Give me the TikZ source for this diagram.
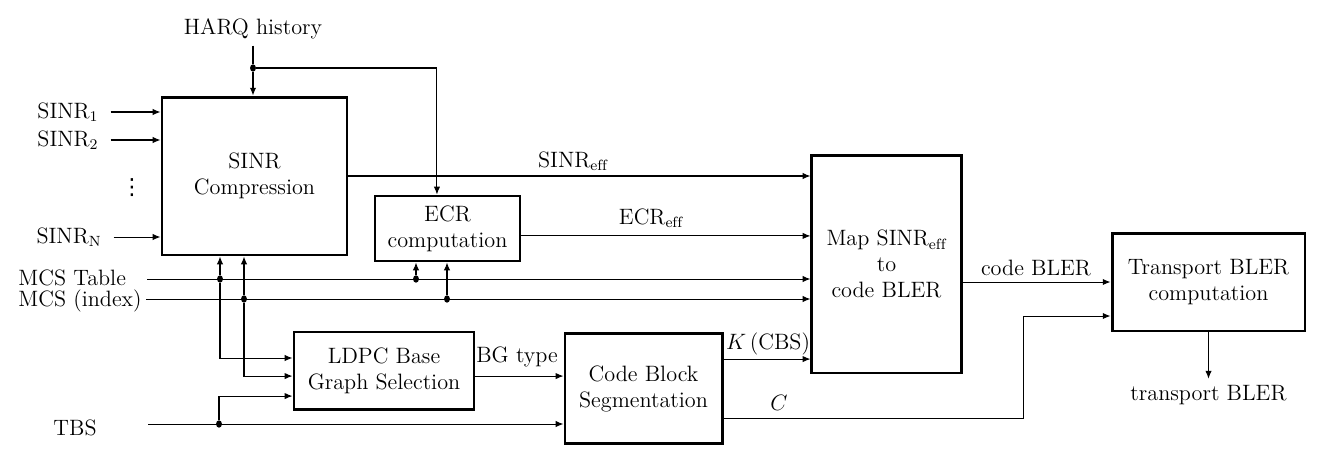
\documentclass[tikz,border=0pt]{standalone}
\usepackage{amsmath}
\usepackage{fontspec}
\newfontfamily\symbfont{DejaVu Sans}
\usetikzlibrary{shapes,arrows.meta}
\tikzset{
  block/.style={draw, line width=1.6pt, align=center, inner sep=2pt},
  dot/.style={ellipse, fill, inner sep=0pt, minimum width=3.2pt, minimum height=4pt},
  wire/.style={line width=0.55pt},
  >={Latex[length=4.2pt,width=3.4pt]}
}
\begin{document}
\begin{tikzpicture}[x=0.54pt, y=-0.54pt, font=\large]
\useasboundingbox (0,0) rectangle (1322,461);
% blocks
\node[block, minimum width=99.9pt, minimum height=85.3pt] (sinr) at (254.5,176) {SINR\\Compression};
\node[block, minimum width=78.3pt, minimum height=35.1pt] (ecr) at (447.5,228.5) {ECR\\computation};
\node[block, minimum width=97.2pt, minimum height=41.6pt] (ldpc) at (384,370.5) {LDPC Base\\Graph Selection};
\node[block, minimum width=84.8pt, minimum height=59.9pt] (cbs) at (643.5,388.5) {Code Block\\Segmentation};
\node[block, minimum width=80.5pt, minimum height=117.7pt] (map) at (886.5,264) {Map SINR$_\mathrm{eff}$\\to\\code BLER};
\node[block, minimum width=104.2pt, minimum height=52.9pt] (tr) at (1208.5,282) {Transport BLER\\computation};
% inputs and outputs
\node (harq) at (253,29) {HARQ history};
\node (s1) at (68,112) {SINR$_1$};
\node (s2) at (68,140) {SINR$_2$};
\node (vd) at (132,188) {\symbfont ⋮};
\node (sn) at (69,237) {SINR$_\mathrm{N}$};
\node[anchor=west, inner sep=0pt] (mcstab) at (18,277.5) {MCS Table};
\node[anchor=west, inner sep=0pt] (mcsidx) at (18,300.5) {MCS (index)};
\node (tbs) at (75,428) {TBS};
\node (out) at (1208.5,395) {transport BLER};
% labels
\node (sinreff) at (573,161) {SINR$_\mathrm{eff}$};
\node (ecreff) at (651,218) {ECR$_\mathrm{eff}$};
\node (bgtype) at (517,357) {BG type};
\node (klab) at (768,344) {$K\,$(CBS)};
\node (clab) at (779,403) {$C$};
\node (codebler) at (1036,268) {code BLER};
% branch points
\node[dot] (dh) at (253,68) {};
\node[dot] (d2) at (220,279) {};
\node[dot] (d3) at (244,299) {};
\node[dot] (d4) at (416,279) {};
\node[dot] (d5) at (447,299) {};
\node[dot] (d6) at (219,424) {};
\coordinate (mcstabin) at (147,279);
\coordinate (mcsidxin) at (146,299);
\coordinate (tbsin) at (148,424);
\coordinate (cup) at (1023,316);
% connectors
\draw[wire] (harq) -- (dh);
\draw[wire,->] (dh) -- (dh |- sinr.north);
\draw[wire,->] (dh) -| ([xshift=-5.7pt]ecr.north);
\draw[wire,->] ([xshift=3pt]s1.east) -- (s1.east -| sinr.west);
\draw[wire,->] ([xshift=3pt]s2.east) -- (s2.east -| sinr.west);
\draw[wire,->] ([xshift=3pt]sn.east) -- (sn.east -| sinr.west);
\draw[wire,->] (mcstabin) -- (mcstabin -| map.west);
\draw[wire,->] (mcsidxin) -- (mcsidxin -| map.west);
\draw[wire,->] (d2) -- (d2 |- sinr.south);
\draw[wire,->] (d2) |- ([yshift=6.75pt]ldpc.west);
\draw[wire,->] (d3) -- (d3 |- sinr.south);
\draw[wire,->] (d3) |- ([yshift=-3pt]ldpc.west);
\draw[wire,->] (d4) -- (d4 |- ecr.south);
\draw[wire,->] (d5) -- (d5 |- ecr.south);
\draw[wire,->] (tbsin) -- (tbsin -| cbs.west);
\draw[wire,->] (d6) |- ([yshift=-13.8pt]ldpc.west);
\draw[wire,->] ([yshift=-3pt]ldpc.east) -- ([yshift=-3pt]ldpc.east -| cbs.west);
\draw[wire,->] ([yshift=15.9pt]cbs.east) -- ([yshift=15.9pt]cbs.east -| map.west);
\draw[wire,->] ([yshift=-16pt]cbs.east) -| (cup) -- (cup -| tr.west);
\draw[wire,->] (sinr.east) -- (sinr.east -| map.west);
\draw[wire,->] ([yshift=-4pt]ecr.east) -- ([yshift=-4pt]ecr.east -| map.west);
\draw[wire,->] (map.east |- tr.west) -- (tr.west);
\draw[wire,->] (tr) -- (out);
\end{tikzpicture}
\end{document}
